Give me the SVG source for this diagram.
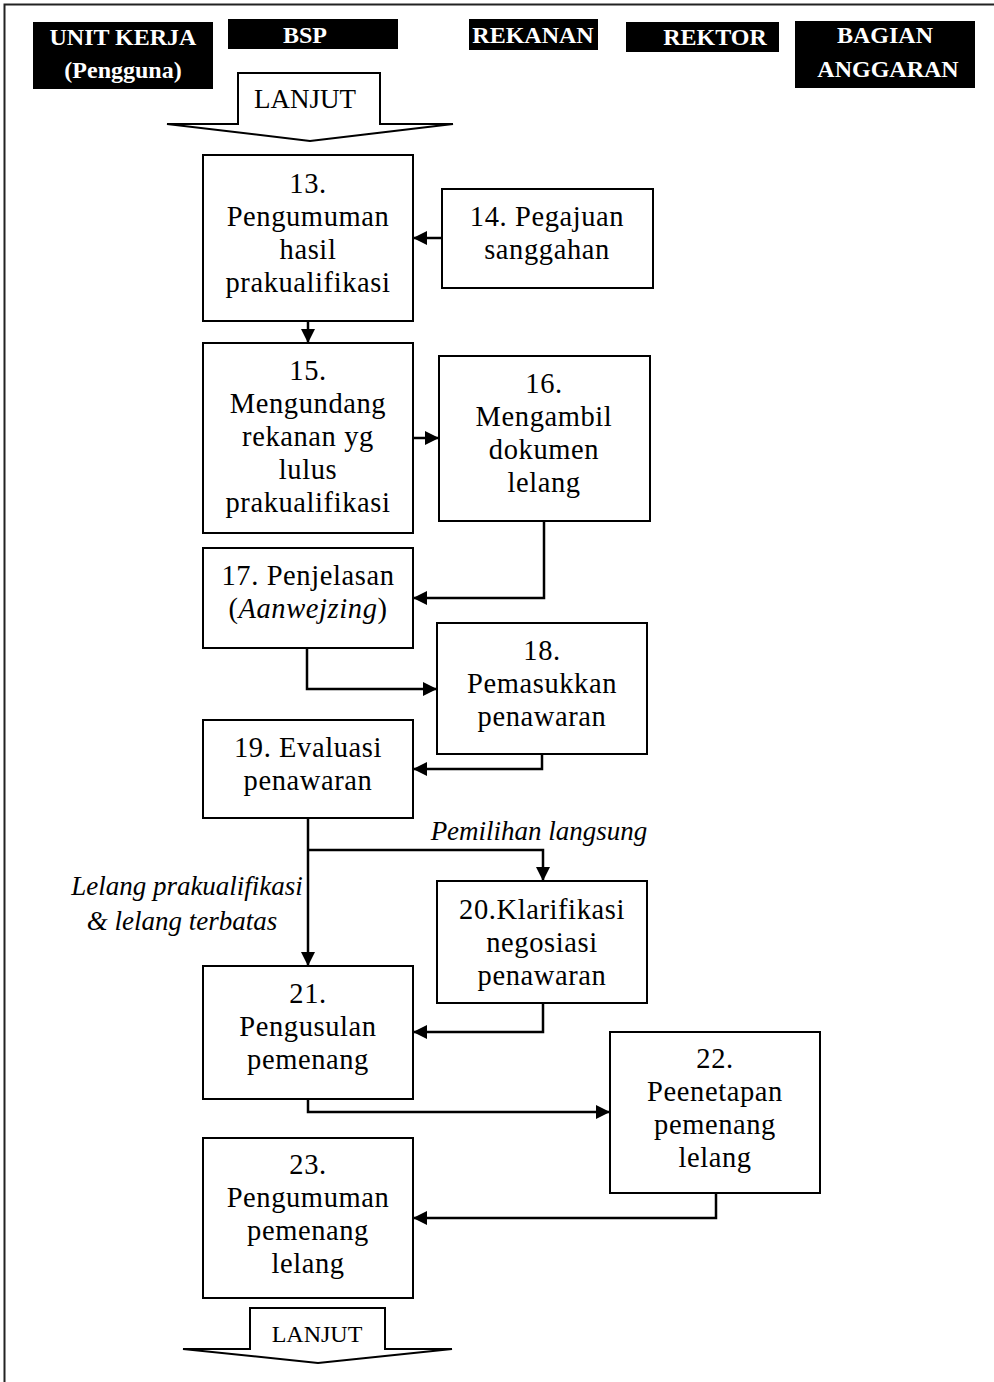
<svg xmlns="http://www.w3.org/2000/svg" width="994" height="1382" viewBox="0 0 994 1382">
  <defs>
    <marker id="arrow" markerUnits="userSpaceOnUse" markerWidth="15" markerHeight="15" refX="14" refY="7" orient="auto">
      <path d="M0,0 L14,7 L0,14 z" fill="#000"/>
    </marker>
    <style>
      .frame { fill: none; stroke: #222; stroke-width: 2; }
      .hdr { fill: #000; }
      .hdr-t { font-family: "Liberation Serif", "Times New Roman", serif; font-weight: bold; font-size: 24px; fill: #fff; text-anchor: middle; }
      .box { fill: #fff; stroke: #000; stroke-width: 2; }
      .t { font-family: "Liberation Serif", "Times New Roman", serif; font-size: 28.5px; fill: #000; text-anchor: middle; letter-spacing: 0.6px; }
      .lbl { font-family: "Liberation Serif", "Times New Roman", serif; font-size: 27px; font-style: italic; fill: #000; text-anchor: middle; }
      .go { fill: #fff; stroke: #000; stroke-width: 2; stroke-linejoin: miter; }
      .conn { fill: none; stroke: #000; stroke-width: 2.5; marker-end: url(#arrow); }
    </style>
  </defs>

  <!-- page frame (left and top edges) -->
  <path class="frame" d="M4.5,1382 L4.5,4.5 L994,4.5"/>

  <!-- swimlane headers -->
  <g id="hdr-unit-kerja">
    <rect class="hdr" x="33" y="22" width="180" height="67"/>
    <text class="hdr-t" x="123" y="45">UNIT KERJA</text>
    <text class="hdr-t" x="123" y="78">(Pengguna)</text>
  </g>
  <g id="hdr-bsp">
    <rect class="hdr" x="228" y="19" width="170" height="30"/>
    <text class="hdr-t" x="305" y="43">BSP</text>
  </g>
  <g id="hdr-rekanan">
    <rect class="hdr" x="469" y="19" width="129" height="31"/>
    <text class="hdr-t" x="533" y="43">REKANAN</text>
  </g>
  <g id="hdr-rektor">
    <rect class="hdr" x="626" y="22" width="153" height="30"/>
    <text class="hdr-t" x="715" y="45">REKTOR</text>
  </g>
  <g id="hdr-bagian-anggaran">
    <rect class="hdr" x="795" y="21" width="180" height="67"/>
    <text class="hdr-t" x="885" y="43">BAGIAN</text>
    <text class="hdr-t" x="888" y="77">ANGGARAN</text>
  </g>

  <!-- continuation from previous page -->
  <g id="lanjut-top">
    <polygon class="go" points="238,73 380,73 380,124 453,124 310,141 167,124 238,124"/>
    <text class="t" x="305" y="108" style="font-size:27px;letter-spacing:0">LANJUT</text>
  </g>

  <!-- process steps -->
  <g id="n13">
    <rect class="box" x="203" y="155" width="210" height="166"/>
    <text class="t" x="308" y="193">13.</text>
    <text class="t" x="308" y="226">Pengumuman</text>
    <text class="t" x="308" y="259">hasil</text>
    <text class="t" x="308" y="292">prakualifikasi</text>
  </g>
  <g id="n14">
    <rect class="box" x="442" y="189" width="211" height="99"/>
    <text class="t" x="547" y="226">14. Pegajuan</text>
    <text class="t" x="547" y="259">sanggahan</text>
  </g>
  <g id="n15">
    <rect class="box" x="203" y="343" width="210" height="190"/>
    <text class="t" x="308" y="380">15.</text>
    <text class="t" x="308" y="413">Mengundang</text>
    <text class="t" x="308" y="446">rekanan yg</text>
    <text class="t" x="308" y="479">lulus</text>
    <text class="t" x="308" y="512">prakualifikasi</text>
  </g>
  <g id="n16">
    <rect class="box" x="439" y="356" width="211" height="165"/>
    <text class="t" x="544" y="393">16.</text>
    <text class="t" x="544" y="426">Mengambil</text>
    <text class="t" x="544" y="459">dokumen</text>
    <text class="t" x="544" y="492">lelang</text>
  </g>
  <g id="n17">
    <rect class="box" x="203" y="548" width="210" height="100"/>
    <text class="t" x="308" y="585">17. Penjelasan</text>
    <text class="t" x="308" y="618">(<tspan font-style="italic">Aanwejzing</tspan>)</text>
  </g>
  <g id="n18">
    <rect class="box" x="437" y="623" width="210" height="131"/>
    <text class="t" x="542" y="660">18.</text>
    <text class="t" x="542" y="693">Pemasukkan</text>
    <text class="t" x="542" y="726">penawaran</text>
  </g>
  <g id="n19">
    <rect class="box" x="203" y="720" width="210" height="98"/>
    <text class="t" x="308" y="757">19. Evaluasi</text>
    <text class="t" x="308" y="790">penawaran</text>
  </g>
  <g id="n20">
    <rect class="box" x="437" y="881" width="210" height="122"/>
    <text class="t" x="542" y="919">20.Klarifikasi</text>
    <text class="t" x="542" y="952">negosiasi</text>
    <text class="t" x="542" y="985">penawaran</text>
  </g>
  <g id="n21">
    <rect class="box" x="203" y="966" width="210" height="133"/>
    <text class="t" x="308" y="1003">21.</text>
    <text class="t" x="308" y="1036">Pengusulan</text>
    <text class="t" x="308" y="1069">pemenang</text>
  </g>
  <g id="n22">
    <rect class="box" x="610" y="1032" width="210" height="161"/>
    <text class="t" x="715" y="1068">22.</text>
    <text class="t" x="715" y="1101">Peenetapan</text>
    <text class="t" x="715" y="1134">pemenang</text>
    <text class="t" x="715" y="1167">lelang</text>
  </g>
  <g id="n23">
    <rect class="box" x="203" y="1138" width="210" height="160"/>
    <text class="t" x="308" y="1174">23.</text>
    <text class="t" x="308" y="1207">Pengumuman</text>
    <text class="t" x="308" y="1240">pemenang</text>
    <text class="t" x="308" y="1273">lelang</text>
  </g>

  <!-- continuation to next page -->
  <g id="lanjut-bottom">
    <polygon class="go" points="250,1308 385,1308 385,1349 452,1349 318,1363 183,1349 250,1349"/>
    <text class="t" x="317" y="1342" style="font-size:24px;letter-spacing:0">LANJUT</text>
  </g>

  <!-- branch labels -->
  <g id="labels">
    <text class="lbl" x="539" y="840">Pemilihan langsung</text>
    <text class="lbl" x="187" y="895">Lelang prakualifikasi</text>
    <text class="lbl" x="182" y="930">&amp; lelang terbatas</text>
  </g>

  <!-- connectors -->
  <g id="connectors">
    <path class="conn" d="M442,238 L413,238"/>
    <path class="conn" d="M308,321 L308,343"/>
    <path class="conn" d="M413,438 L439,438"/>
    <path class="conn" d="M544,521 L544,598 L413,598"/>
    <path class="conn" d="M307,648 L307,689 L437,689"/>
    <path class="conn" d="M542,754 L542,769 L413,769"/>
    <path class="conn" d="M308,818 L308,966"/>
    <path class="conn" d="M308,850 L543,850 L543,881"/>
    <path class="conn" d="M543,1003 L543,1032 L413,1032"/>
    <path class="conn" d="M308,1099 L308,1112 L610,1112"/>
    <path class="conn" d="M716,1193 L716,1218 L413,1218"/>
  </g>
</svg>
